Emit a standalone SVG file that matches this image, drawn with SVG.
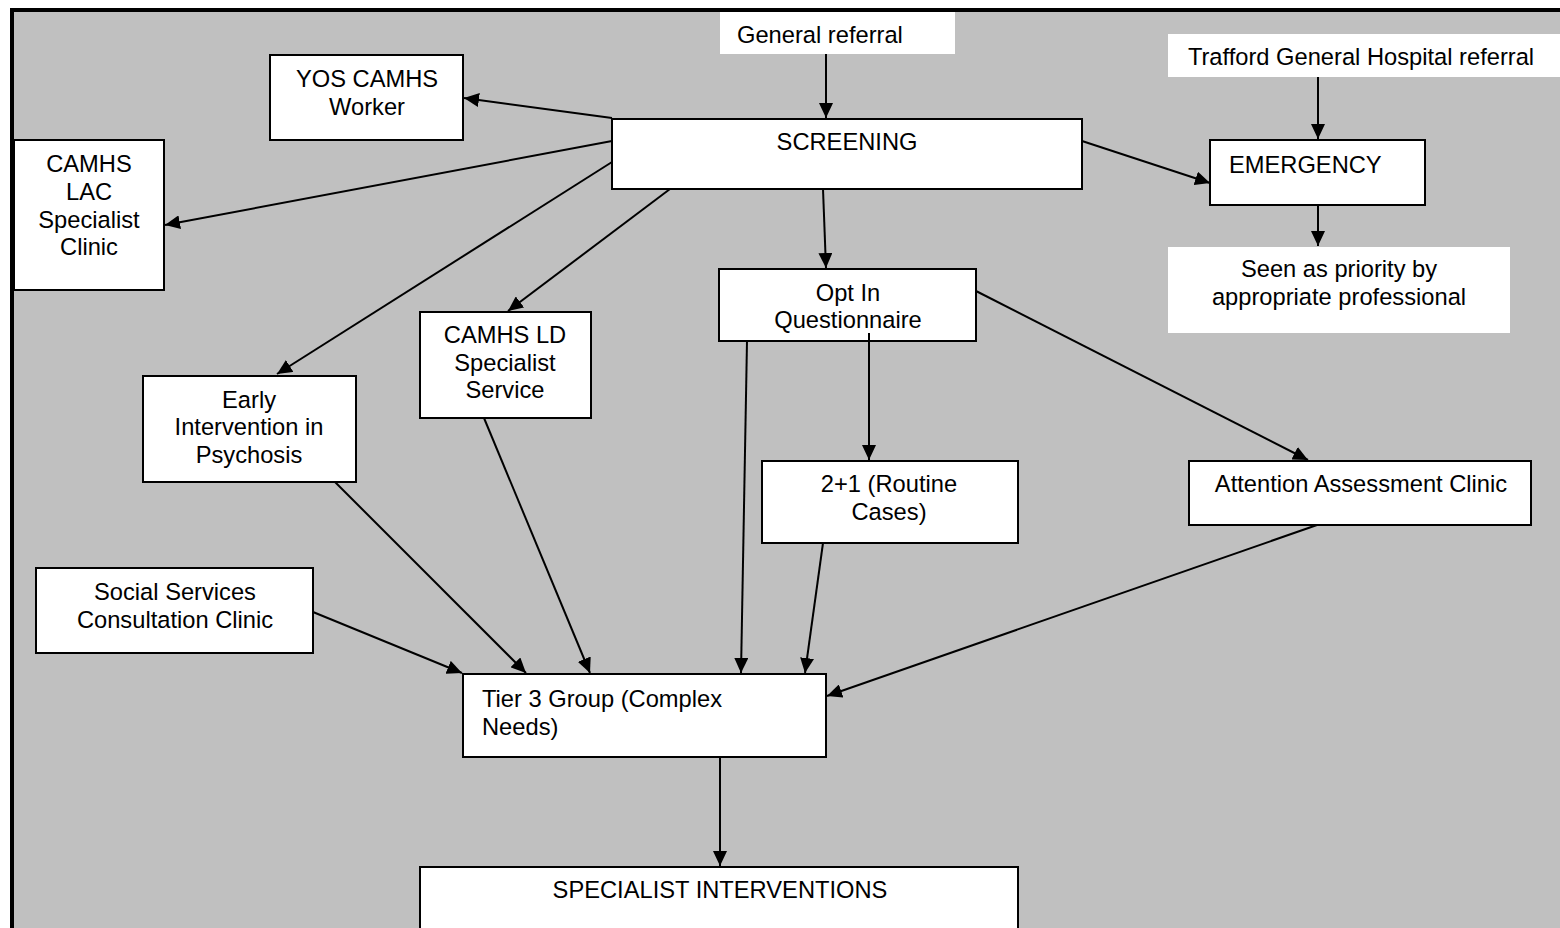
<svg xmlns="http://www.w3.org/2000/svg" width="1560" height="928" viewBox="0 0 1560 928">
  <style>
    .box { fill: #ffffff; stroke: #000000; stroke-width: 2; }
    .plain { fill: #ffffff; stroke: none; }
    .lbl { font-family: "Liberation Sans", Arial, sans-serif; font-size: 23.7px; fill: #000000; }
    .c { text-anchor: middle; }
    .edge { stroke: #000000; stroke-width: 2; fill: none; marker-end: url(#arrow); }
  </style>
  <defs>
    <marker id="arrow" markerUnits="userSpaceOnUse" viewBox="0 0 15 14" markerWidth="15" markerHeight="14" refX="15" refY="7" orient="auto">
      <path d="M0,0 L15,7 L0,14 z" fill="#000000"/>
    </marker>
  </defs>

  <!-- page background and frame -->
  <rect x="0" y="0" width="1560" height="928" fill="#ffffff"/>
  <rect x="12" y="10" width="1560" height="930" fill="#c0c0c0" stroke="#000000" stroke-width="4"/>

  <g id="general-referral">
    <rect class="plain" x="720" y="12" width="235" height="42"/>
    <text class="lbl" x="737" y="43">General referral</text>
  </g>

  <g id="trafford-referral">
    <rect class="plain" x="1168" y="34" width="392" height="43"/>
    <text class="lbl c" x="1361" y="65">Trafford General Hospital referral</text>
  </g>

  <g id="screening">
    <rect class="box" x="612" y="119" width="470" height="70"/>
    <text class="lbl c" x="847" y="150">SCREENING</text>
  </g>

  <g id="yos-camhs">
    <rect class="box" x="270" y="55" width="193" height="85"/>
    <text class="lbl c" x="367" y="87">YOS CAMHS</text>
    <text class="lbl c" x="367" y="115">Worker</text>
  </g>

  <g id="camhs-lac">
    <rect class="box" x="14" y="140" width="150" height="150"/>
    <text class="lbl c" x="89" y="172">CAMHS</text>
    <text class="lbl c" x="89" y="200">LAC</text>
    <text class="lbl c" x="89" y="228">Specialist</text>
    <text class="lbl c" x="89" y="255">Clinic</text>
  </g>

  <g id="emergency">
    <rect class="box" x="1210" y="140" width="215" height="65"/>
    <text class="lbl" x="1229" y="173">EMERGENCY</text>
  </g>

  <g id="seen-as-priority">
    <rect class="plain" x="1168" y="247" width="342" height="86"/>
    <text class="lbl c" x="1339" y="277">Seen as priority by</text>
    <text class="lbl c" x="1339" y="305">appropriate professional</text>
  </g>

  <g id="opt-in">
    <rect class="box" x="719" y="269" width="257" height="72"/>
    <text class="lbl c" x="848" y="301">Opt In</text>
    <text class="lbl c" x="848" y="328">Questionnaire</text>
  </g>

  <g id="camhs-ld">
    <rect class="box" x="420" y="312" width="171" height="106"/>
    <text class="lbl c" x="505" y="343">CAMHS LD</text>
    <text class="lbl c" x="505" y="371">Specialist</text>
    <text class="lbl c" x="505" y="398">Service</text>
  </g>

  <g id="early-intervention">
    <rect class="box" x="143" y="376" width="213" height="106"/>
    <text class="lbl c" x="249" y="408">Early</text>
    <text class="lbl c" x="249" y="435">Intervention in</text>
    <text class="lbl c" x="249" y="463">Psychosis</text>
  </g>

  <g id="routine-cases">
    <rect class="box" x="762" y="461" width="256" height="82"/>
    <text class="lbl c" x="889" y="492">2+1 (Routine</text>
    <text class="lbl c" x="889" y="520">Cases)</text>
  </g>

  <g id="attention-assessment">
    <rect class="box" x="1189" y="461" width="342" height="64"/>
    <text class="lbl c" x="1361" y="492">Attention Assessment Clinic</text>
  </g>

  <g id="social-services">
    <rect class="box" x="36" y="568" width="277" height="85"/>
    <text class="lbl c" x="175" y="600">Social Services</text>
    <text class="lbl c" x="175" y="628">Consultation Clinic</text>
  </g>

  <g id="tier3">
    <rect class="box" x="463" y="674" width="363" height="83"/>
    <text class="lbl" x="482" y="707">Tier 3 Group (Complex</text>
    <text class="lbl" x="482" y="735">Needs)</text>
  </g>

  <g id="specialist-interventions">
    <rect class="box" x="420" y="867" width="598" height="80"/>
    <text class="lbl c" x="720" y="898">SPECIALIST INTERVENTIONS</text>
  </g>

  <!-- connectors, drawn last so the line out of Opt In shows over its box -->
  <g id="connectors">
    <line class="edge" x1="826" y1="54" x2="826" y2="118"/>
    <line class="edge" x1="1318" y1="77" x2="1318" y2="139"/>
    <line class="edge" x1="1318" y1="205" x2="1318" y2="246"/>
    <line class="edge" x1="1082" y1="141" x2="1210" y2="183"/>
    <line class="edge" x1="612" y1="118" x2="464" y2="98"/>
    <line class="edge" x1="612" y1="141" x2="165" y2="225"/>
    <line class="edge" x1="612" y1="162" x2="277" y2="374"/>
    <line class="edge" x1="670" y1="189" x2="508" y2="311"/>
    <line class="edge" x1="823" y1="189" x2="826" y2="268"/>
    <line class="edge" x1="869" y1="333" x2="869" y2="460"/>
    <line class="edge" x1="976" y1="291" x2="1308" y2="460"/>
    <line class="edge" x1="747" y1="341" x2="741" y2="673"/>
    <line class="edge" x1="823" y1="543" x2="805" y2="673"/>
    <line class="edge" x1="1317" y1="525" x2="827" y2="696"/>
    <line class="edge" x1="335" y1="482" x2="526" y2="673"/>
    <line class="edge" x1="484" y1="418" x2="590" y2="673"/>
    <line class="edge" x1="313" y1="612" x2="462" y2="673"/>
    <line class="edge" x1="720" y1="757" x2="720" y2="866"/>
  </g>
</svg>
